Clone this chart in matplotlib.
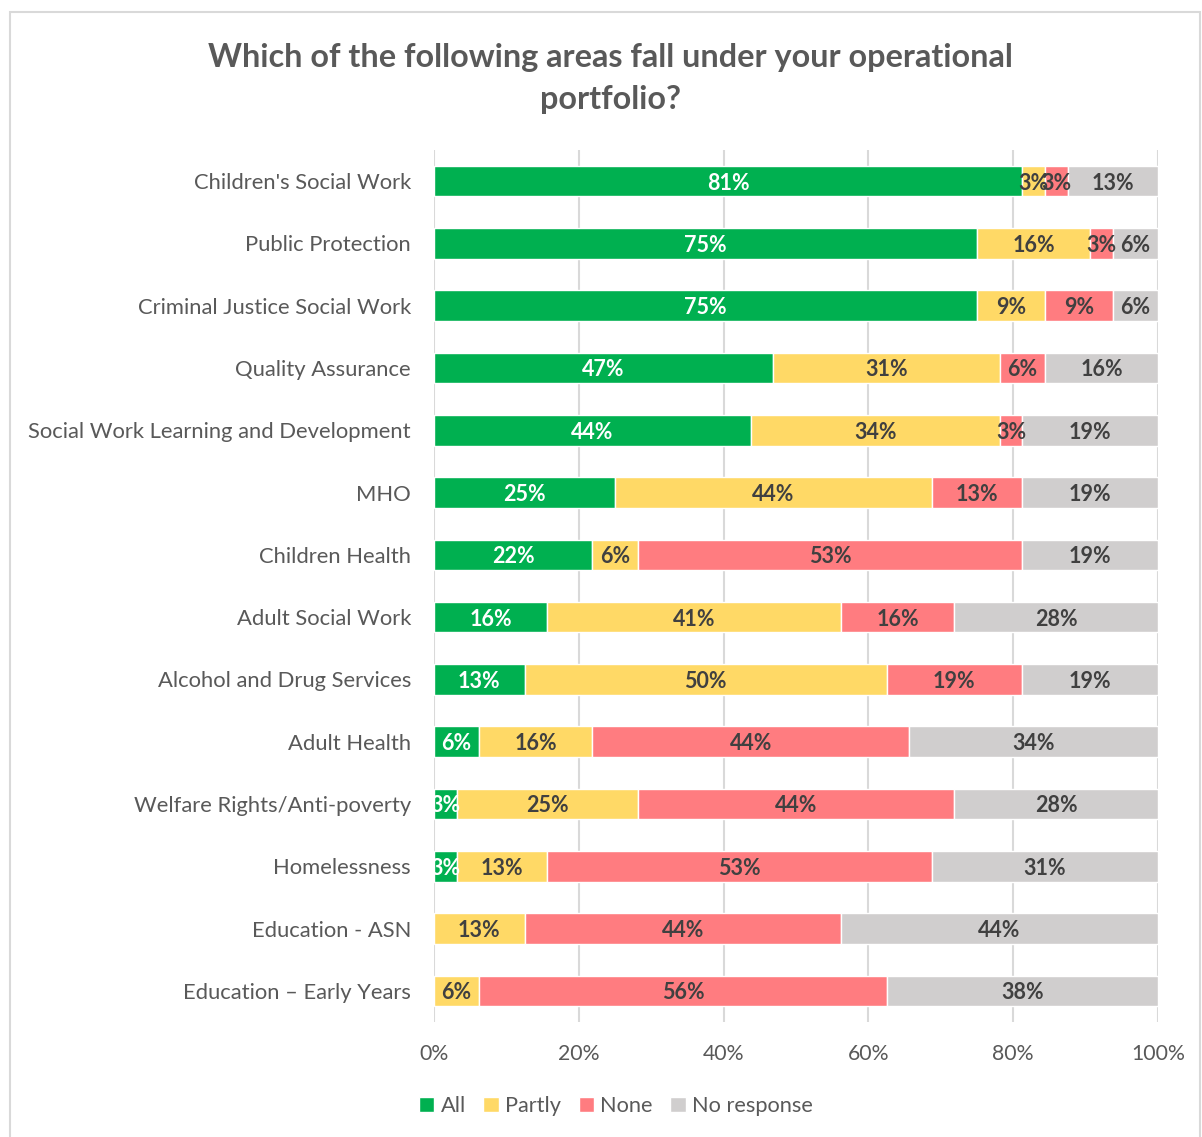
import numpy as np
import matplotlib.pyplot as plt
from matplotlib.patches import Rectangle

# Responses out of 32 local authorities for each area
areas = ["Children's Social Work", "Public Protection", "Criminal Justice Social Work",
         "Quality Assurance", "Social Work Learning and Development", "MHO",
         "Children Health", "Adult Social Work", "Alcohol and Drug Services",
         "Adult Health", "Welfare Rights/Anti-poverty", "Homelessness",
         "Education - ASN", "Education \u2013 Early Years"]
all_cnt = [26, 24, 24, 15, 14, 8, 7, 5, 4, 2, 1, 1, 0, 0]
partly_cnt = [1, 5, 3, 10, 11, 14, 2, 13, 16, 5, 8, 4, 4, 2]
none_cnt = [1, 1, 3, 2, 1, 4, 17, 5, 6, 14, 14, 17, 14, 18]
noresp_cnt = [4, 2, 2, 5, 6, 6, 6, 9, 6, 11, 9, 10, 14, 12]
n_resp = 32

series = ["All", "Partly", "None", "No response"]
colors = ["#00B050", "#FFD966", "#FF7C80", "#D0CECE"]
label_colors = ["white", "#404040", "#404040", "#404040"]

plt.rcParams['font.family'] = ['Lato', 'DejaVu Sans']

fig = plt.figure(figsize=(12.02, 11.37), dpi=100)
ax = fig.add_axes([434/1202, 1 - 1022/1137, 724/1202, 872/1137])

y = np.arange(len(areas))
left = np.zeros(len(areas))
for cnt, name, col, tcol in zip([all_cnt, partly_cnt, none_cnt, noresp_cnt],
                                series, colors, label_colors):
    share = np.array(cnt) / n_resp
    ax.barh(y, share, left=left, height=0.49, color=col, edgecolor="white",
            linewidth=1, label=name, zorder=3)
    for yi, l, s in zip(y, left, share):
        if s > 0:
            pct = int(np.floor(s * 100 + 0.5))
            ax.text(l + s / 2, yi + 0.03, f"{pct}%", ha="center", va="center",
                    fontsize=15.5, fontweight="bold", color=tcol, zorder=4,
                    clip_on=True)
    left += share

ax.set_xlim(0, 1)
ax.set_ylim(len(areas) - 0.5, -0.5)
ax.set_yticks(y)
ax.set_yticklabels(areas)
ax.set_xticks(np.arange(0, 1.01, 0.2))
ax.set_xticklabels([f"{int(v*100)}%" for v in np.arange(0, 1.01, 0.2)])
ax.tick_params(axis="y", length=0, labelsize=15.8, colors="#595959", pad=16.5)
ax.tick_params(axis="x", length=0, labelsize=15.3, colors="#595959", pad=16)
ax.grid(axis="x", color="#D9D9D9", linewidth=1.5, zorder=0)
for sp in ax.spines.values():
    sp.set_visible(False)

fig.suptitle("Which of the following areas fall under your operational\nportfolio?",
             x=0.508, y=0.962, fontsize=23.3, fontweight="bold", color="#595959",
             linespacing=1.55)

fig.legend(loc="center", bbox_to_anchor=(616/1202, 1 - 1106/1137), ncol=4,
           frameon=False, fontsize=15.7, labelcolor="#595959",
           handlelength=0.7, handleheight=0.7, handletextpad=0.3,
           columnspacing=0.8)

# light frame around the chart area
fig.patches.append(Rectangle((10/1202, -0.01), 1190/1202, 1 - 12/1137 + 0.01,
                             transform=fig.transFigure, fill=False,
                             edgecolor="#D9D9D9", linewidth=1.5))

fig.savefig("out.png", dpi=100)
